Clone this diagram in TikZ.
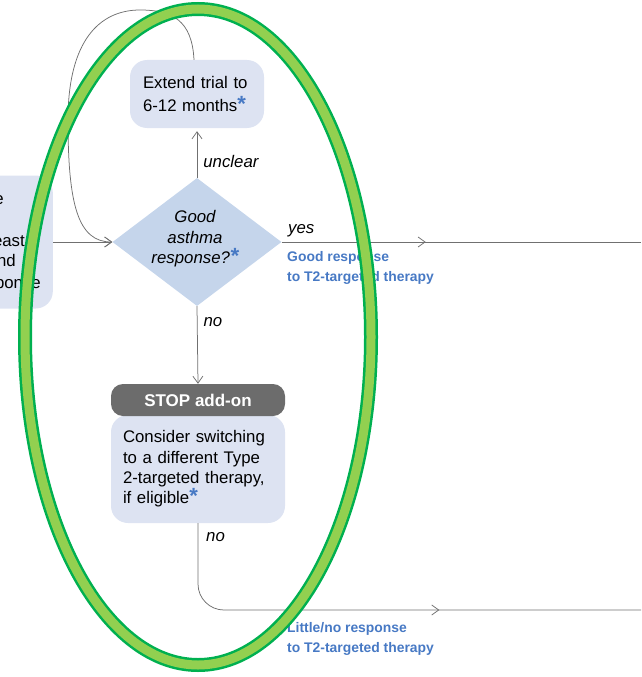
\documentclass[tikz,border=0pt]{standalone}
\usepackage{fontspec}
\setmainfont{Liberation Sans}
\usepackage{tikz}
\usetikzlibrary{arrows.meta,calc,decorations.markings,positioning,shapes.geometric}

\definecolor{kastenfarbe}{RGB}{221,227,242}
\definecolor{rautenfarbe}{RGB}{197,213,235}
\definecolor{stopgrau}{RGB}{108,108,108}
\definecolor{liniengrau}{RGB}{112,112,112}
\definecolor{textblau}{RGB}{71,121,196}
\definecolor{ringdunkel}{RGB}{0,176,80}
\definecolor{ringhell}{RGB}{146,208,80}

\newcommand{\stern}{\textcolor{textblau}{\fontsize{22}{22}\selectfont\bfseries *}}

\begin{document}
\begin{tikzpicture}[x=1pt,y=-1pt,
  >={Straight Barb[length=7pt,width=10pt]},
  box/.style={rectangle, rounded corners=17pt, fill=kastenfarbe, align=left, inner xsep=13pt, font=\fontsize{16.8}{22.5}\selectfont},
  raute/.style={diamond, fill=rautenfarbe, minimum width=169pt, minimum height=128pt, inner sep=0pt},
  stopbox/.style={rectangle, rounded corners=12pt, fill=stopgrau, text=white, font=\fontsize{17}{20}\selectfont\bfseries, minimum width=174pt, minimum height=32pt},
  linie/.style={draw=liniengrau, line width=0.75pt},
  janein/.style={font=\fontsize{16.8}{20}\selectfont\itshape},
  stueck/.style={font=\fontsize{16.8}{20}\selectfont, anchor=base east, inner sep=0pt},
  ergebnis/.style={text=textblau, font=\fontsize{13.9}{20}\selectfont\bfseries, align=left, inner sep=0pt, anchor=north west},
  pfeilmitte/.style={postaction={decorate}, decoration={markings, mark=at position #1 with {\arrow{>}}}}
]
%Rahmen wie das Bild, alles drumherum abschneiden
\useasboundingbox (0,0) rectangle (641,677);
\clip (0,0) rectangle (641,677);
  \pgfmathsetmacro{\mx}{197}
%Kasten links, nur zum Teil sichtbar
\node[box, minimum width=80pt, minimum height=133pt, anchor=east] (vorher) at (53,242) {};
\node[stueck] (vorherA) at (4,204) {e};
\node[stueck] (vorherB) at (25,246) {east};
\node[stueck] (vorherC) at (16,266) {nd};
\node[stueck] (vorherD) at (41,288) {ponse};
%Knoten
\node[box, text width=108pt, minimum height=68pt] (extend) at (\mx,94) {Extend trial to\\6-12 months\stern};
\node[raute] (resp) at (\mx,242) {};
\node[align=center, inner sep=0pt, font=\fontsize{16.8}{20.5}\selectfont\itshape] (resptext) at (195,239) {Good\\asthma\\response?\stern};
\node[box, text width=150pt, inner xsep=12pt, minimum height=108pt, font=\fontsize{16.8}{20.3}\selectfont] (abw) at (198,469) {Consider switching\\to a different Type\\2-targeted therapy,\\if eligible\stern};
\node[stopbox, text depth=0pt] (stop) at (198,400) {STOP add-on\hspace{6pt}};
\coordinate (rechtsOben) at (641,242);
\coordinate (rechtsUnten) at (641,610);
%Verbindungen
\draw[linie, ->] (vorher.east) -- (resp.west);
\draw[linie, ->] ([xshift=-3pt]extend.north) .. controls (192,20) and (172,10) .. (140,10) .. controls (100,10) and (68,40) .. (68,120) .. controls (68,205) and (78,242) .. (resp.west);
\draw[linie, ->, shorten >=3pt] (resp.north) -- node[janein, anchor=west, pos=0.33, inner sep=6pt] (lblUnklar) {unclear} (extend.south);
\draw[linie, ->] (resp.south) -- node[janein, anchor=west, pos=0.2, inner sep=6pt] (lblNein) {no} (stop.north);
\draw[linie, pfeilmitte=144pt] (resp.east) -- (rechtsOben);
\draw[linie, rounded corners=26pt, pfeilmitte=317pt] (abw.south) |- (rechtsUnten);
\node[janein, anchor=base west, inner sep=0pt] (lblJa) at (288,233) {yes};
\node[janein, anchor=base west, inner sep=0pt] (lblNeinB) at (206,541) {no};
\node[ergebnis] (gut) at (287,251) {Good response\\to T2-targeted therapy};
\node[ergebnis] (wenig) at (287,622) {Little/no response\\to T2-targeted therapy};
%gruener Ring obendrauf
\draw[ringdunkel, line width=14pt] (198,337) ellipse [x radius=173, y radius=328];
\draw[ringhell, line width=9pt] (198,337) ellipse [x radius=173, y radius=328];
\end{tikzpicture}
\end{document}
